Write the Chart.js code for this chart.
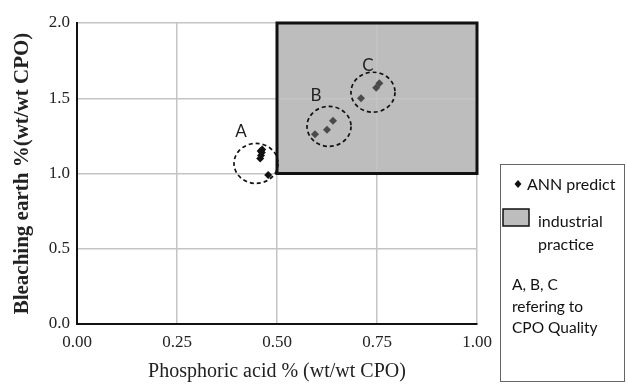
<!DOCTYPE html>
<html>
<head>
<meta charset="utf-8">
<script src="https://cdn.jsdelivr.net/npm/chart.js@4"></script>
<style>
  html, body { margin: 0; padding: 0; background: #fff; }
  #wrap { width: 628px; height: 384px; position: relative; }
</style>
</head>
<body>
<div id="wrap"><canvas id="chart" width="628" height="384"></canvas></div>
<script>
// ANN predicted points (phosphoric acid, bleaching earth)
const phosphoric = [0.458, 0.460, 0.462, 0.459, 0.463, 0.478, 0.595, 0.625, 0.640, 0.710, 0.748, 0.756];
const bleaching = [1.10, 1.12, 1.14, 1.15, 1.16, 0.99, 1.26, 1.29, 1.35, 1.50, 1.57, 1.60];
const pointColors = ["#111", "#111", "#111", "#111", "#111", "#111", "#4a4a4a", "#4a4a4a", "#4a4a4a", "#4a4a4a", "#4a4a4a", "#4a4a4a"];

// industrial practice region
const practiceX = [0.5, 1.0];
const practiceY = [1.0, 2.0];

// quality groups: label, ellipse centre, label position
const groupNames = ["A", "B", "C"];
const groupCx = [0.4475, 0.630, 0.740];
const groupCy = [1.067, 1.313, 1.540];
const labelX = [0.41, 0.5975, 0.7275];
const labelY = [1.28, 1.52, 1.72];

const xTicks = [0, 0.25, 0.5, 0.75, 1.0];
const yTicks = [0, 0.5, 1.0, 1.5, 2.0];

const serif = "'Liberation Serif', 'DejaVu Serif', serif";
const sans = "Lato, 'Open Sans', sans-serif";

const ctxEl = document.getElementById("chart");

const regionPlugin = {
  id: "region",
  beforeDraw(chart) {
    const { ctx, scales: { x, y } } = chart;
    ctx.save();
    ctx.fillStyle = "#bdbdbd";
    ctx.fillRect(x.getPixelForValue(practiceX[0]), y.getPixelForValue(practiceY[1]),
      x.getPixelForValue(practiceX[1]) - x.getPixelForValue(practiceX[0]),
      y.getPixelForValue(practiceY[0]) - y.getPixelForValue(practiceY[1]));
    ctx.restore();
  },
  beforeDatasetsDraw(chart) {
    const { ctx, scales: { x, y } } = chart;
    ctx.save();
    ctx.strokeStyle = "#111";
    ctx.lineWidth = 3;
    ctx.strokeRect(x.getPixelForValue(practiceX[0]), y.getPixelForValue(practiceY[1]),
      x.getPixelForValue(practiceX[1]) - x.getPixelForValue(practiceX[0]),
      y.getPixelForValue(practiceY[0]) - y.getPixelForValue(practiceY[1]));
    ctx.restore();
  },
  afterDatasetsDraw(chart) {
    const { ctx, scales: { x, y } } = chart;
    ctx.save();
    ctx.strokeStyle = "#111";
    ctx.lineWidth = 1.7;
    ctx.setLineDash([4, 3]);
    groupNames.forEach((name, i) => {
      ctx.beginPath();
      ctx.ellipse(x.getPixelForValue(groupCx[i]), y.getPixelForValue(groupCy[i]), 22, 20, 0, 0, Math.PI * 2);
      ctx.stroke();
    });
    ctx.setLineDash([]);
    ctx.fillStyle = "#222";
    ctx.font = "17px " + sans;
    ctx.textAlign = "center";
    ctx.textBaseline = "middle";
    groupNames.forEach((name, i) => {
      ctx.fillText(name, x.getPixelForValue(labelX[i]), y.getPixelForValue(labelY[i]));
    });
    ctx.restore();
  },
  afterDraw(chart) {
    const { ctx } = chart;
    ctx.save();
    // legend box
    ctx.strokeStyle = "#666";
    ctx.lineWidth = 1;
    ctx.strokeRect(500.5, 164.5, 124, 217);
    ctx.fillStyle = "#111";
    ctx.beginPath();
    ctx.moveTo(518, 180); ctx.lineTo(521.5, 184); ctx.lineTo(518, 188); ctx.lineTo(514.5, 184);
    ctx.closePath(); ctx.fill();
    ctx.fillStyle = "#bdbdbd";
    ctx.fillRect(503, 209, 26, 17);
    ctx.strokeStyle = "#111";
    ctx.lineWidth = 1.5;
    ctx.strokeRect(503, 209, 26, 17);
    ctx.fillStyle = "#111";
    ctx.font = "16px " + sans;
    ctx.textBaseline = "middle";
    ctx.textAlign = "left";
    ctx.fillText("ANN predict", 527, 185);
    ctx.fillText("industrial", 538, 222);
    ctx.fillText("practice", 538, 245);
    ctx.font = "15.5px " + sans;
    ctx.fillText("A, B, C", 512, 285);
    ctx.fillText("refering to", 512, 307);
    ctx.fillText("CPO Quality", 512, 328);
    ctx.restore();
  }
};

new Chart(ctxEl, {
  type: "scatter",
  data: {
    datasets: [{
      label: "ANN predict",
      data: phosphoric.map((v, i) => ({ x: v, y: bleaching[i] })),
      pointStyle: "rectRot",
      pointRadius: 4,
      pointBackgroundColor: pointColors,
      pointBorderWidth: 0,
    }],
  },
  options: {
    responsive: false,
    animation: false,
    devicePixelRatio: 1,
    layout: { padding: { left: 0, right: 151, top: 23, bottom: 0 } },
    plugins: { legend: { display: false }, tooltip: { enabled: false } },
    scales: {
      x: {
        type: "linear",
        min: 0, max: 1,
        afterBuildTicks(scale) { scale.ticks = xTicks.map((v) => ({ value: v })); },
        afterFit(scale) { scale.height = 60; },
        grid: { color: "#c4c4c4", lineWidth: 1.5, drawTicks: false },
        border: { color: "#111", width: 2 },
        ticks: { padding: 8, color: "#222", maxRotation: 0, font: { family: serif, size: 17 },
          callback: (v) => Number(v).toFixed(2) },
        title: { display: true, text: "Phosphoric acid % (wt/wt CPO)", color: "#222",
          font: { family: serif, size: 20 }, padding: { top: 0, bottom: 0 } },
      },
      y: {
        type: "linear",
        min: 0, max: 2,
        afterBuildTicks(scale) { scale.ticks = yTicks.map((v) => ({ value: v })); },
        afterFit(scale) { scale.width = 77; },
        grid: { color: "#c4c4c4", lineWidth: 1.5, drawTicks: false },
        border: { color: "#111", width: 2 },
        ticks: { padding: 7, color: "#222", font: { family: serif, size: 17 },
          callback: (v) => Number(v).toFixed(1) },
        title: { display: true, text: "Bleaching earth %(wt/wt CPO)", color: "#222",
          font: { family: serif, size: 21, weight: "bold" }, padding: { top: 10, bottom: 0 } },
      },
    },
  },
  plugins: [regionPlugin],
});
</script>
</body>
</html>
